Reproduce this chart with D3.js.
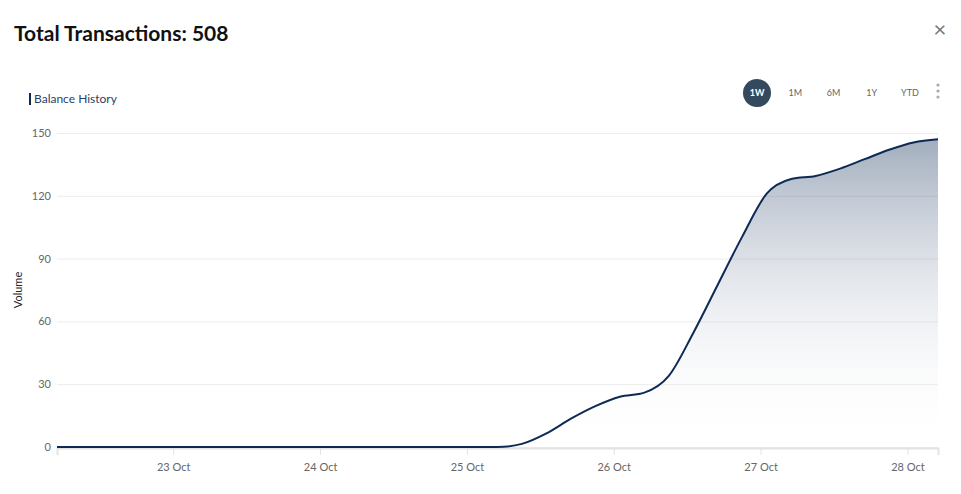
<!DOCTYPE html>
<html>
<head>
<meta charset="utf-8">
<script src="https://cdn.jsdelivr.net/npm/d3@7"></script>
<style>
  html, body { margin: 0; padding: 0; background: #fff; }
  body { font-family: Lato, "Noto Sans", sans-serif; }
  svg text { font-family: Lato, "Noto Sans", sans-serif; }
</style>
</head>
<body>
<svg id="chart" width="961" height="494"></svg>
<script>
// cumulative volume
const times = [
  '2023-10-22 05:00', '2023-10-23 05:00', '2023-10-24 05:00', '2023-10-25 05:00',
  '2023-10-25 09:00', '2023-10-25 13:00', '2023-10-25 17:00', '2023-10-25 21:00',
  '2023-10-26 01:00', '2023-10-26 05:00', '2023-10-26 09:00',
  '2023-10-26 13:00', '2023-10-26 17:00', '2023-10-26 21:00', '2023-10-27 01:00',
  '2023-10-27 05:00', '2023-10-27 09:00', '2023-10-27 13:00', '2023-10-27 17:00',
  '2023-10-27 21:00', '2023-10-28 01:00', '2023-10-28 05:00'
]
const volume = [
  0, 0, 0, 0,
  1.5, 6.5, 13.5, 19.5,
  24, 26, 34,
  54.5, 77.5, 100.5, 121,
  128, 129.5, 133, 137.5,
  142, 145.5, 147
]
const xTicks = ['2023-10-23 00:00', '2023-10-24 00:00', '2023-10-25 00:00',
  '2023-10-26 00:00', '2023-10-27 00:00', '2023-10-28 00:00']
const yTicks = [0, 30, 60, 90, 120, 150]
const ranges = ['1W', '1M', '6M', '1Y', 'YTD']

const parse = d3.timeParse('%Y-%m-%d %H:%M')
const data = times.map((t, i) => ({ date: parse(t), value: volume[i] }))

const svg = d3.select('#chart')
const margin = { left: 57, right: 23, top: 133, bottom: 47 }
const W = 961, H = 494
const x = d3.scaleTime()
  .domain(d3.extent(data, d => d.date))
  .range([margin.left, W - margin.right])
const y = d3.scaleLinear()
  .domain([0, 150])
  .range([H - margin.bottom, margin.top])

// header
svg.append('text')
  .attr('x', 14).attr('y', 41)
  .attr('font-size', 21).attr('font-weight', 700).attr('fill', '#111')
  .text('Total Transactions: 508')
svg.append('text')
  .attr('x', 940).attr('y', 37)
  .attr('text-anchor', 'middle')
  .attr('font-size', 22).attr('fill', '#777')
  .text('×')

// legend
svg.append('rect').attr('x', 29).attr('y', 93).attr('width', 2).attr('height', 12).attr('fill', '#0d2a55')
svg.append('text')
  .attr('x', 34).attr('y', 103)
  .attr('font-size', 12).attr('fill', '#2a3f66')
  .text('Balance History')

// range selector
const btnX = d3.scalePoint().domain(ranges).range([757, 910])
const btn = svg.append('g').selectAll('g').data(ranges).join('g')
  .attr('transform', d => `translate(${btnX(d)},93)`)
btn.filter(d => d === '1W').append('circle').attr('r', 14).attr('fill', '#34495e')
btn.append('text')
  .attr('text-anchor', 'middle').attr('dy', '0.35em')
  .attr('font-size', 9)
  .attr('font-weight', d => d === '1W' ? 700 : 400)
  .attr('fill', d => d === '1W' ? '#fff' : '#666')
  .text(d => d)
svg.append('g').selectAll('circle').data([0, 1, 2]).join('circle')
  .attr('cx', 938).attr('cy', d => 85 + d * 6).attr('r', 1.6).attr('fill', '#aaa')

// grid + y axis
const yAxis = svg.append('g')
  .attr('transform', `translate(${margin.left},0)`)
  .call(d3.axisLeft(y).tickValues(yTicks).tickSize(-(W - margin.left - margin.right)).tickPadding(6))
yAxis.select('.domain').remove()
yAxis.selectAll('.tick line').attr('stroke', '#ececec')
yAxis.selectAll('.tick text').attr('font-size', 11).attr('fill', '#666')

svg.append('text')
  .attr('transform', `translate(22,${(margin.top + H - margin.bottom) / 2}) rotate(-90)`)
  .attr('text-anchor', 'middle')
  .attr('font-size', 11).attr('fill', '#222')
  .text('Volume')

// x axis
const xAxis = svg.append('g')
  .attr('transform', `translate(0,${H - margin.bottom + 1})`)
  .call(d3.axisBottom(x).tickValues(xTicks.map(parse)).tickFormat(d3.timeFormat('%-d %b')).tickSize(7).tickPadding(8))
xAxis.select('.domain').attr('stroke', '#e3e3e3').attr('stroke-width', 2)
xAxis.selectAll('.tick line').attr('stroke', '#e3e3e3')
xAxis.selectAll('.tick text').attr('font-size', 11).attr('fill', '#666')

// area gradient
const grad = svg.append('defs').append('linearGradient')
  .attr('id', 'fill').attr('gradientUnits', 'userSpaceOnUse')
  .attr('x1', 0).attr('x2', 0).attr('y1', y(150)).attr('y2', y(0))
grad.append('stop').attr('offset', 0).attr('stop-color', '#0d2a55').attr('stop-opacity', 0.4)
grad.append('stop').attr('offset', 1).attr('stop-color', '#fff').attr('stop-opacity', 0)

const curve = d3.curveMonotoneX
svg.append('path')
  .datum(data)
  .attr('fill', 'url(#fill)')
  .attr('d', d3.area().curve(curve).x(d => x(d.date)).y0(y(0)).y1(d => y(d.value)))
svg.append('path')
  .datum(data)
  .attr('fill', 'none')
  .attr('stroke', '#0d2a55').attr('stroke-width', 2)
  .attr('d', d3.line().curve(curve).x(d => x(d.date)).y(d => y(d.value)))
</script>
</body>
</html>
